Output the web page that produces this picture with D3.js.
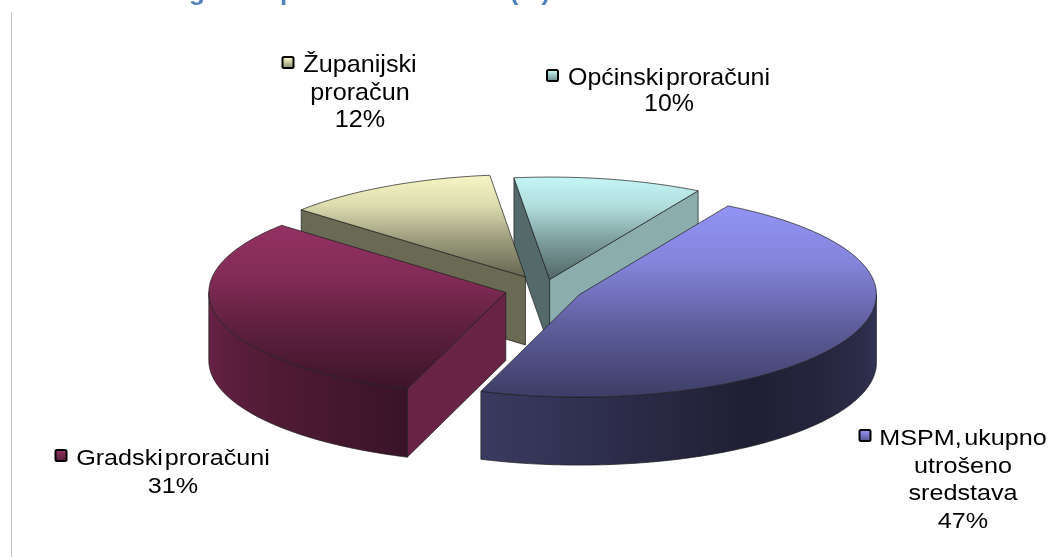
<!DOCTYPE html>
<html>
<head>
<meta charset="utf-8">
<script src="https://d3js.org/d3.v7.min.js"></script>
<style>
  html, body { margin: 0; padding: 0; background: #fff; }
  svg { display: block; filter: blur(0.4px); }
  text { font-family: "Liberation Sans", Arial, sans-serif; fill: #000; }
</style>
</head>
<body>
<script>
// Data
var categories = ["MSPM, ukupno utrošeno sredstava", "Gradski proračuni", "Županijski proračun", "Općinski proračuni"];
var values = [47.05, 31.0, 11.7, 10.25];
var baseColors = ["#9999ff", "#993366", "#ffffcc", "#ccffff"];
var labelLines = [["MSPM, ukupno", "utrošeno", "sredstava"], ["Gradski proračuni"], ["Županijski", "proračun"], ["Općinski proračuni"]];

var width = 1048, height = 557;

// pie geometry
var cx = 544, cy = 289, rx = 297, tilt = 0.345, depth = 68;
var explode = [39, 39.5, 39.5, 28];
var firstAngle = 30 * Math.PI / 180;

// label placement: centre x, first baseline, line gap, font size, x stretch, word gap, width of first line
var labelPos = [
  {x: 963, y: 445, gap: 27.7, size: 22.5, sx: 1.12, ws: -4, w: 165},
  {x: 173, y: 465, gap: 27.5, size: 22.5, sx: 1.12, ws: -4.5, w: 193},
  {x: 360, y: 72, gap: 27.5, size: 24, sx: 1.05, ws: 0, w: 113},
  {x: 669, y: 85, gap: 26, size: 24, sx: 1.04, ws: -4.5, w: 202}
];

// how dark a wall is for a given facing direction (degrees clockwise from top)
var wallShade = d3.scaleLinear().domain([90, 145, 199, 270]).range([0.33, 0.2, 0.38, 0.7]);
var topStops = [[0, 0.96], [0.3, 0.86], [0.62, 0.62], [1, 0.4]];

function shade(color, f) {
  var c = d3.rgb(color);
  return d3.rgb(c.r * f, c.g * f, c.b * f).formatHex();
}

var svg = d3.select("body").append("svg").attr("width", width).attr("height", height);
var defs = svg.append("defs");

// title is cut by the top of the picture, only the tails of these glyphs show
var titleBits = [["g", 197], ["p", 288], ["(%)", 530]];
svg.selectAll(".title").data(titleBits).enter().append("text")
  .attr("class", "title")
  .attr("x", function(d) { return d[1]; })
  .attr("y", 0)
  .attr("text-anchor", "middle")
  .attr("font-size", 26)
  .attr("font-weight", "bold")
  .style("fill", "#4f81bd")
  .text(function(d) { return d[0]; });

// left rule
svg.append("line").attr("x1", 11.5).attr("x2", 11.5).attr("y1", 12).attr("y2", height).attr("stroke", "#c9c9c9").attr("stroke-width", 1);

var slices = d3.pie().sort(null).startAngle(firstAngle).endAngle(firstAngle + 2 * Math.PI)(values);

var line = d3.line().x(function(d) { return d[0]; }).y(function(d) { return d[1]; });

function project(i, a, r, z) {
  var mid = (slices[i].startAngle + slices[i].endAngle) / 2;
  var ox = cx + explode[i] * Math.sin(mid);
  var oy = cy - explode[i] * Math.cos(mid) * tilt;
  return [ox + r * Math.sin(a), oy - r * Math.cos(a) * tilt + z];
}

function arcPoints(i, a0, a1, z) {
  var n = Math.max(2, Math.ceil((a1 - a0) * 60));
  return d3.range(n + 1).map(function(k) { return project(i, a0 + (a1 - a0) * k / n, rx, z); });
}

function topGradient(i) {
  var pts = [project(i, 0, 0, 0)].concat(arcPoints(i, slices[i].startAngle, slices[i].endAngle, 0));
  var ys = d3.extent(pts, function(d) { return d[1]; });
  var g = defs.append("linearGradient").attr("id", "top" + i)
    .attr("gradientUnits", "userSpaceOnUse")
    .attr("x1", 0).attr("x2", 0).attr("y1", ys[0]).attr("y2", ys[1]);
  topStops.forEach(function(s) {
    g.append("stop").attr("offset", s[0]).attr("stop-color", shade(baseColors[i], s[1]));
  });
}

function wallGradient(i, a0, a1) {
  var x0 = project(i, a1, rx, 0)[0];
  var x1 = project(i, a0, rx, 0)[0];
  var g = defs.append("linearGradient").attr("id", "wall" + i)
    .attr("gradientUnits", "userSpaceOnUse")
    .attr("x1", x0).attr("x2", x1).attr("y1", 0).attr("y2", 0);
  d3.range(13).forEach(function(k) {
    var a = a1 + (a0 - a1) * k / 12;
    var x = project(i, a, rx, 0)[0];
    var deg = a * 180 / Math.PI;
    g.append("stop").attr("offset", (x - x0) / (x1 - x0))
      .attr("stop-color", shade(baseColors[i], wallShade(deg)));
  });
}

var edge = {stroke: "#1c1c1c", width: 0.7};

function drawFace(i, a) {
  // cut face, only if it turns toward the viewer
  var isStart = a === slices[i].startAngle;
  var normal = a + (isStart ? -Math.PI / 2 : Math.PI / 2);
  if (-Math.cos(normal) <= 0) return;
  var deg = (normal * 180 / Math.PI + 360) % 360;
  var f = deg < 180 ? 0.68 : 0.41;
  var p0 = project(i, a, 0, 0), p1 = project(i, a, rx, 0);
  var p2 = project(i, a, rx, depth), p3 = project(i, a, 0, depth);
  svg.append("path").attr("d", line([p0, p1, p2, p3]) + "Z")
    .attr("fill", shade(baseColors[i], f))
    .attr("stroke", edge.stroke).attr("stroke-width", edge.width).attr("stroke-linejoin", "round");
}

function drawSlice(i) {
  var s = slices[i];
  topGradient(i);
  drawFace(i, s.startAngle);
  drawFace(i, s.endAngle);

  // outer wall, the part of the rim that faces front
  var a0 = Math.max(s.startAngle, Math.PI / 2), a1 = Math.min(s.endAngle, 3 * Math.PI / 2);
  if (a1 > a0) {
    wallGradient(i, a0, a1);
    var upper = arcPoints(i, a0, a1, 0), lower = arcPoints(i, a0, a1, depth).reverse();
    svg.append("path").attr("d", line(upper.concat(lower)) + "Z")
      .attr("fill", "url(#wall" + i + ")")
      .attr("stroke", edge.stroke).attr("stroke-width", edge.width).attr("stroke-linejoin", "round");
  }

  // top surface
  var pts = [project(i, s.startAngle, 0, 0)].concat(arcPoints(i, s.startAngle, s.endAngle, 0));
  svg.append("path").attr("d", line(pts) + "Z")
    .attr("fill", "url(#top" + i + ")")
    .attr("stroke", edge.stroke).attr("stroke-width", edge.width).attr("stroke-linejoin", "round");
}

// back slices first, the front ones paint over them
[3, 2, 1, 0].forEach(drawSlice);

// labels
var pct = d3.format(".0f");
categories.forEach(function(name, i) {
  var pos = labelPos[i];
  var lines = labelLines[i].concat(pct(values[i]) + "%");
  var keyGrad = defs.append("linearGradient").attr("id", "key" + i).attr("x1", 0).attr("x2", 0).attr("y1", 0).attr("y2", 1);
  keyGrad.append("stop").attr("offset", 0).attr("stop-color", baseColors[i]);
  keyGrad.append("stop").attr("offset", 1).attr("stop-color", shade(baseColors[i], 0.55));

  lines.forEach(function(t, k) {
    svg.append("text")
      .attr("transform", "translate(" + pos.x + "," + (pos.y + k * pos.gap) + ") scale(" + pos.sx + ",1)")
      .attr("text-anchor", "middle")
      .attr("font-size", pos.size)
      .style("word-spacing", pos.ws + "px")
      .text(t);
  });
  svg.append("rect")
    .attr("x", pos.x - pos.w / 2 - 21)
    .attr("y", pos.y - 15)
    .attr("width", 11).attr("height", 11).attr("rx", 1.5)
    .attr("fill", "url(#key" + i + ")")
    .attr("stroke", "#000").attr("stroke-width", 2);
});
</script>
</body>
</html>
